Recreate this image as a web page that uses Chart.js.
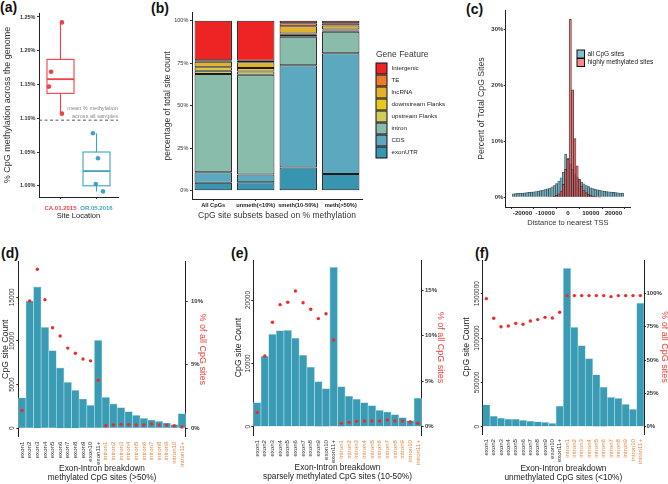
<!DOCTYPE html>
<html>
<head>
<meta charset="utf-8">
<script src="https://cdn.jsdelivr.net/npm/chart.js@4.4.1/dist/chart.umd.min.js"></script>
<style>
html, body { margin: 0; padding: 0; background: #fff; width: 668px; height: 484px; overflow: hidden; }
canvas { position: absolute; }
.tag { position: absolute; font: bold 14px 'Liberation Sans', Arial, sans-serif; color: #111; }
</style>
</head>
<body>
<div class="tag" style="left:0px;top:-1px">(a)</div>
<div class="tag" style="left:151px;top:0px">(b)</div>
<div class="tag" style="left:466px;top:1px">(c)</div>
<div class="tag" style="left:1px;top:245px">(d)</div>
<div class="tag" style="left:231px;top:245px">(e)</div>
<div class="tag" style="left:475px;top:245px">(f)</div>

<canvas id="chartA" width="125" height="228" style="left:0;top:0"></canvas>
<canvas id="chartB" width="345" height="228" style="left:125px;top:0"></canvas>
<canvas id="chartC" width="208" height="235" style="left:460px;top:0"></canvas>
<canvas id="chartD" width="215" height="244" style="left:0;top:240px"></canvas>
<canvas id="chartE" width="226" height="244" style="left:220px;top:240px"></canvas>
<canvas id="chartF" width="226" height="244" style="left:446px;top:240px"></canvas>

<script>
const FONT = "'Liberation Sans', Arial, sans-serif";

// (a) genome-wide % CpG methylation per sample
const sites = ['CA.01.2015', 'OR.05.2016'];
const caMeth = [1.242, 1.169, 1.147, 1.107];
const orMeth = [1.078, 1.041, 1.003, 0.992];
const methTicks = [1.00, 1.05, 1.10, 1.15, 1.20, 1.25];

// (b) gene feature share per CpG subset (%)
const subsets = ['All CpGs', 'unmeth(<10%)', 'smeth(10-50%)', 'meth(>50%)'];
const features = ['exonUTR', 'CDS', 'intron', 'upstream Flanks', 'downstream Flanks', 'lncRNA', 'TE', 'Intergenic'];
const exonUTR = [4.7, 5.0, 13.7, 9.8];
const cds = [6.1, 4.6, 60.1, 71.0];
const intron = [57.8, 58.6, 16.8, 12.7];
const upstreamFlanks = [1.9, 1.9, 1.2, 0.8];
const downstreamFlanks = [2.1, 2.1, 0.7, 0.5];
const lncRNA = [3.2, 3.3, 4.3, 2.4];
const te = [0.9, 0.9, 1.7, 1.3];
const intergenic = [23.3, 23.6, 1.5, 1.5];
const pctTicks = [0, 25, 50, 75, 100];

// (c) distance to nearest TSS, 1 kb bins (bin centres)
const tssBins = [-24000, -23000, -22000, -21000, -20000, -19000, -18000, -17000, -16000, -15000,
  -14000, -13000, -12000, -11000, -10000, -9000, -8000, -7000, -6000, -5000, -4000, -3000, -2000, -1000,
  0, 1000, 2000, 3000, 4000, 5000, 6000, 7000, 8000, 9000, 10000, 11000, 12000, 13000, 14000, 15000,
  16000, 17000, 18000, 19000, 20000, 21000, 22000, 23000, 24000];
const allSites = [0.6, 0.65, 0.7, 0.72, 0.75, 0.8, 0.83, 0.87, 0.92, 0.97,
  1.03, 1.1, 1.18, 1.27, 1.37, 1.5, 1.65, 1.85, 2.1, 2.45, 2.9, 3.5, 4.5, 7.7,
  7.0, 6.0, 5.0, 4.2, 3.6, 3.1, 2.7, 2.4, 2.1, 1.9, 1.7, 1.55, 1.42, 1.32, 1.23, 1.15,
  1.08, 1.02, 0.97, 0.92, 0.88, 0.84, 0.8, 0.77, 0.74];
const highSites = [0, 0, 0, 0, 0, 0, 0, 0, 0, 0,
  0, 0, 0, 0, 0, 0, 0.05, 0.1, 0.2, 0.35, 0.6, 1.1, 2.3, 5.0,
  6.8, 31.8, 19.2, 10.5, 5.6, 3.2, 2.0, 1.3, 0.85, 0.55, 0.35, 0.22, 0.12, 0.06, 0.03, 0,
  0, 0, 0, 0, 0, 0, 0, 0, 0];
const tssTicks = [-20000, -10000, 0, 10000, 20000];
const tssPctTicks = [0, 10, 20, 30];

// (d)-(f) exon / intron breakdown
const exonIntron = ['exon1', 'exon2', 'exon3', 'exon4', 'exon5', 'exon6', 'exon7', 'exon8', 'exon9', 'exon10', 'exon11+',
  'intron1', 'intron2', 'intron3', 'intron4', 'intron5', 'intron6', 'intron7', 'intron8', 'intron9', 'intron10', 'intron11+'];
const methCount = [3500, 14600, 16200, 11560, 8890, 6910, 5270, 4350, 3360, 2630, 10080,
  3550, 2790, 2370, 1910, 1490, 1150, 950, 800, 610, 420, 1680];
const methPct = [1.41, 10.0, 12.5, 10.1, 7.9, 7.25, 6.3, 5.9, 5.45, 5.3, 3.77,
  0.2, 0.26, 0.31, 0.29, 0.26, 0.26, 0.34, 0.26, 0.26, 0.2, 0.1];
const smethCount = [3790, 11160, 14580, 15160, 15210, 14000, 11320, 9420, 7110, 6000, 25160,
  6320, 4840, 4370, 3790, 3320, 2580, 2320, 1900, 1420, 950, 4530];
const smethPct = [1.57, 7.77, 11.47, 13.4, 13.66, 14.9, 13.6, 12.9, 11.87, 12.4, 9.52,
  0.37, 0.48, 0.59, 0.62, 0.62, 0.62, 0.73, 0.62, 0.62, 0.51, 0.37];
const unmethCount = [248000, 120000, 98000, 86000, 86000, 71000, 64000, 56000, 49000, 38000, 233000,
  1786000, 1120000, 914000, 767000, 586000, 447000, 331000, 320000, 252000, 195000, 1395000];
const unmethPct = [96, 81.3, 75, 75.5, 77.5, 76.8, 79.3, 80.3, 82, 81.5, 85.8,
  98.3, 98.3, 98.3, 98.3, 98.3, 98.3, 97.5, 98.3, 98.3, 98.3, 98.3];

// styling
const siteColors = ['#ef4146', '#3ea3c2'];
const jitterA = [[0.04, -0.26, -0.32, 0.04], [-0.1, 0.04, -0.02, 0.18]];
const featureColors = ['#3795b0', '#5ba8bf', '#8abcab', '#d0cd5c', '#e9c720', '#e2b22a', '#ee7a2b', '#ee2424'];

Chart.defaults.font.family = FONT;
Chart.defaults.animation = false;
Chart.defaults.responsive = false;
Chart.defaults.color = '#333';
Chart.defaults.plugins.legend.display = false;
Chart.defaults.plugins.tooltip.enabled = false;

function f(size, weight, lineHeight) {
  return {family: FONT, size: size, weight: weight || 'normal', lineHeight: lineHeight || 1.2};
}

// fixes the thickness of an axis box so the plot area lands where we want it
function fit(size) {
  return function (s) {
    if (s.isHorizontal()) s.height = size; else s.width = size;
    s.paddingLeft = s.paddingRight = s.paddingTop = s.paddingBottom = 0;
  };
}

function setTicks(values) {
  return function (s) { s.ticks = values.map(v => ({value: v})); };
}

const plain = v => String(v);

function quantile(arr, p) {
  const s = [...arr].sort((a, b) => a - b);
  const h = (s.length - 1) * p, lo = Math.floor(h);
  const hi = Math.min(lo + 1, s.length - 1);
  return s[lo] + (h - lo) * (s[hi] - s[lo]);
}

const axisLine = {display: true, color: '#222', width: 1};
const tickMarks = {drawOnChartArea: false, drawTicks: true, tickLength: 2, color: '#333'};

// box and whisker + mean line for panel (a)
const boxPlot = {
  id: 'boxPlot',
  beforeDatasetsDraw(chart) {
    const {ctx, chartArea, scales: {x, y}} = chart;
    const all = caMeth.concat(orMeth);
    const mean = all.reduce((a, b) => a + b, 0) / all.length;
    const ym = y.getPixelForValue(mean);
    ctx.save();
    ctx.strokeStyle = '#444';
    ctx.lineWidth = 0.9;
    ctx.setLineDash([3, 2.5]);
    ctx.beginPath();
    ctx.moveTo(chartArea.left, ym);
    ctx.lineTo(chartArea.right, ym);
    ctx.stroke();
    ctx.setLineDash([]);
    ctx.fillStyle = '#8a8a8a';
    ctx.font = '5.6px ' + FONT;
    ctx.textAlign = 'right';
    ctx.textBaseline = 'middle';
    ctx.fillText('mean % methylation', chartArea.right, ym - 11.7);
    ctx.fillText('across all samples', chartArea.right, ym - 3.6);

    [caMeth, orMeth].forEach((vals, i) => {
      const q1 = quantile(vals, 0.25), med = quantile(vals, 0.5), q3 = quantile(vals, 0.75);
      const lo = Math.min(...vals), hi = Math.max(...vals);
      const xc = x.getPixelForValue(i + 1);
      const hw = x.getPixelForValue(i + 1.375) - xc;
      const py = v => y.getPixelForValue(v);
      ctx.strokeStyle = siteColors[i];
      ctx.lineWidth = 1.1;
      ctx.beginPath();
      ctx.moveTo(xc, py(hi)); ctx.lineTo(xc, py(q3));
      ctx.moveTo(xc, py(q1)); ctx.lineTo(xc, py(lo));
      ctx.stroke();
      ctx.strokeRect(xc - hw, py(q3), 2 * hw, py(q1) - py(q3));
      ctx.lineWidth = 1.8;
      ctx.beginPath();
      ctx.moveTo(xc - hw, py(med)); ctx.lineTo(xc + hw, py(med));
      ctx.stroke();
    });
    ctx.restore();
  }
};

// key boxes drawn at fixed spots (ggplot-like legends)
const keyLegend = {
  id: 'keyLegend',
  afterDraw(chart, args, o) {
    const ctx = chart.ctx;
    const ds = chart.data.datasets;
    ctx.save();
    if (o.title) {
      ctx.fillStyle = '#333';
      ctx.font = o.titleSize + 'px ' + FONT;
      ctx.textBaseline = 'middle';
      ctx.fillText(o.title, o.x, o.titleY);
    }
    o.order.forEach((idx, k) => {
      const top = o.y + k * o.step;
      ctx.fillStyle = o.keyColors ? o.keyColors[idx] : ds[idx].backgroundColor;
      ctx.fillRect(o.x, top, o.w, o.h);
      ctx.strokeStyle = '#111';
      ctx.lineWidth = 1;
      ctx.strokeRect(o.x, top, o.w, o.h);
      ctx.fillStyle = '#222';
      ctx.font = o.size + 'px ' + FONT;
      ctx.textBaseline = 'middle';
      ctx.fillText(ds[idx].label, o.x + o.w + o.gap, top + o.h / 2);
    });
    ctx.restore();
  }
};

// ---- (a)
new Chart(document.getElementById('chartA'), {
  type: 'scatter',
  data: {
    datasets: [caMeth, orMeth].map((vals, i) => ({
      label: sites[i],
      data: vals.map((v, k) => ({x: i + 1 + jitterA[i][k], y: v})),
      backgroundColor: siteColors[i],
      borderWidth: 0,
      pointRadius: 2.3
    }))
  },
  options: {
    layout: {padding: {top: 13, right: 7}},
    scales: {
      x: {
        type: 'linear', min: 0.403, max: 2.597,
        afterBuildTicks: setTicks([1, 2]), afterFit: fit(31),
        grid: tickMarks, border: axisLine,
        ticks: {padding: 6, font: f(6, 'bold'), color: c => siteColors[c.index], callback: (v, i) => sites[i]},
        title: {display: true, text: 'Site Location', font: f(7.5), color: '#222', padding: {top: 0, bottom: 7.3}}
      },
      y: {
        min: 0.9837, max: 1.2559,
        afterBuildTicks: setTicks(methTicks), afterFit: fit(39),
        grid: tickMarks, border: axisLine,
        ticks: {padding: 1.5, font: f(5.5, 'bold'), callback: v => v.toFixed(2) + '%'},
        title: {display: true, text: '% CpG methylation across the genome', font: f(9), color: '#333', padding: {top: 2.6, bottom: 0}}
      }
    }
  },
  plugins: [boxPlot]
});

// ---- (b)
const featureData = [exonUTR, cds, intron, upstreamFlanks, downstreamFlanks, lncRNA, te, intergenic];
new Chart(document.getElementById('chartB'), {
  type: 'bar',
  data: {
    labels: subsets,
    datasets: featureData.map((vals, i) => ({
      label: features[i],
      data: vals,
      backgroundColor: featureColors[i],
      borderColor: '#1a1a1a',
      borderWidth: 1,
      borderSkipped: false,
      barPercentage: 0.88,
      categoryPercentage: 1
    }))
  },
  options: {
    layout: {padding: {top: 12.7, right: 108}},
    scales: {
      x: {
        stacked: true, afterFit: fit(29),
        grid: Object.assign({offset: false}, tickMarks), border: axisLine,
        ticks: {padding: 1, font: f(5.7, 'bold'), color: '#222', minRotation: 0, maxRotation: 0, autoSkip: false},
        title: {display: true, text: 'CpG site subsets based on % methylation', font: f(8.5), color: '#333', padding: {top: 0, bottom: 7.4}}
      },
      y: {
        stacked: true, min: -4.88, max: 104.7,
        afterBuildTicks: setTicks(pctTicks), afterFit: fit(67),
        grid: tickMarks, border: axisLine,
        ticks: {padding: 1.7, font: f(5.5), callback: v => v + '%'},
        title: {display: true, text: 'percentage of total site count', font: f(8.5), color: '#333', padding: {top: 37.9, bottom: 0}}
      }
    },
    plugins: {
      keyLegend: {
        title: 'Gene Feature', titleSize: 8.5, titleY: 55,
        x: 251, y: 63, step: 12, w: 11, h: 11, gap: 4.5, size: 6.2,
        order: [7, 6, 5, 4, 3, 2, 1, 0]
      }
    }
  },
  plugins: [keyLegend]
});

// ---- (c)
new Chart(document.getElementById('chartC'), {
  type: 'bar',
  data: {
    datasets: [
      {
        label: 'all CpG sites',
        data: tssBins.map((b, i) => ({x: b, y: allSites[i]})),
        backgroundColor: 'rgba(103,176,197,0.75)',
        borderColor: 'rgba(20,20,20,0.8)', borderWidth: 0.5,
        order: 1
      },
      {
        label: 'highly methylated sites',
        data: tssBins.map((b, i) => ({x: b, y: highSites[i]})),
        backgroundColor: 'rgba(238,88,88,0.65)',
        borderColor: 'rgba(20,20,20,0.8)', borderWidth: 0.5,
        order: 0
      }
    ]
  },
  options: {
    grouped: false,
    barPercentage: 1,
    categoryPercentage: 1,
    layout: {padding: {top: 10, right: 38}},
    scales: {
      x: {
        type: 'linear', offset: false, min: -27385, max: 27253,
        afterBuildTicks: setTicks(tssTicks), afterFit: fit(28),
        grid: tickMarks, border: axisLine,
        ticks: {padding: 0.9, font: f(6.2, 'bold'), color: '#222', callback: plain},
        title: {display: true, text: 'Distance to nearest TSS', font: f(7.5), color: '#333', padding: {top: 0, bottom: 7.5}}
      },
      y: {
        min: -1.73, max: 33.45,
        afterBuildTicks: setTicks(tssPctTicks), afterFit: fit(45.7),
        grid: tickMarks, border: axisLine,
        ticks: {padding: 0.4, font: f(6, 'bold'), callback: v => v + '%'},
        title: {display: true, text: 'Percent of Total CpG Sites', font: f(8.7), color: '#333', padding: {top: 16.8, bottom: 0}}
      }
    },
    plugins: {
      keyLegend: {
        x: 117, y: 50, step: 8.5, w: 7.5, h: 8, gap: 3, size: 6.5,
        order: [0, 1], keyColors: ['#80bfd0', '#f48a8c']
      }
    }
  },
  plugins: [keyLegend]
});

// ---- (d)-(f)
function breakdownChart(id, counts, pct, subtitle, L) {
  new Chart(document.getElementById(id), {
    type: 'bar',
    data: {
      labels: exonIntron,
      datasets: [
        {
          type: 'line', label: '% of all CpG sites', data: pct, yAxisID: 'y2',
          showLine: false, pointRadius: 1.7, pointBackgroundColor: '#ee2a2a', pointBorderWidth: 0, order: 0
        },
        {
          label: 'CpG site Count', data: counts, yAxisID: 'y',
          backgroundColor: '#3a9bb4', borderColor: '#a9d6e0', borderWidth: 0.7,
          barPercentage: 1, categoryPercentage: 1, order: 1
        }
      ]
    },
    options: {
      layout: {padding: {top: L.top}},
      scales: {
        x: {
          afterFit: fit(L.xh),
          grid: {display: false}, border: {display: false},
          ticks: {
            autoSkip: false, minRotation: 90, maxRotation: 90, padding: L.xpad, font: f(6.1),
            color: c => c.index < 11 ? '#333' : '#e8843c'
          },
          title: {
            display: true, text: ['Exon-Intron breakdown', subtitle], font: f(8.3, 'normal', 1.17),
            color: '#222', padding: {top: 0, bottom: L.tpad}
          }
        },
        y: {
          position: 'left', min: L.ymin, max: L.ymax,
          afterBuildTicks: setTicks(L.yticks), afterFit: fit(L.yw),
          grid: tickMarks, border: axisLine,
          ticks: {minRotation: 90, maxRotation: 90, crossAlign: 'center', padding: L.ypad, font: f(6.5), callback: plain},
          title: {display: true, text: 'CpG site Count', font: f(8.7), color: '#222', padding: {top: L.ytitle, bottom: 0}}
        },
        y2: {
          position: 'right', min: L.pmin, max: L.pmax,
          afterBuildTicks: setTicks(L.pticks), afterFit: fit(L.pw),
          grid: tickMarks, border: axisLine,
          ticks: {padding: L.ppad, font: f(6, 'bold'), callback: v => v + '%'},
          title: {display: true, text: '% of all CpG sites', font: f(9), color: '#ea4038', padding: {top: L.ptitle, bottom: 0}}
        }
      }
    }
  });
}

breakdownChart('chartD', methCount, methPct, 'methylated CpG sites (>50%)', {
  top: 21.7, xh: 47.3, xpad: -3, tpad: 1.2,
  ymin: -962, ymax: 19077, yticks: [0, 5000, 10000, 15000], yw: 18.3, ypad: -5, ytitle: 0,
  pmin: -0.66, pmax: 13.09, pticks: [0, 5, 10], pw: 29.3, ppad: 3.3, ptitle: 6.9
});
breakdownChart('chartE', smethCount, smethPct, 'sparsely methylated CpG sites (10-50%)', {
  top: 20, xh: 49, xpad: -3, tpad: 2.2,
  ymin: -1311, ymax: 26322, yticks: [0, 10000, 20000], yw: 33.3, ypad: -5.7, ytitle: 13.1,
  pmin: -0.91, pmax: 18.3, pticks: [0, 5, 10, 15], pw: 24.3, ppad: 1.3, ptitle: 0.6
});
breakdownChart('chartF', unmethCount, unmethPct, 'unmethylated CpG sites (<10%)', {
  top: 20, xh: 50, xpad: -3, tpad: 1.2,
  ymin: -82330, ymax: 1880000, yticks: [0, 500000, 1000000, 1500000], yw: 36.7, ypad: -9.6, ytitle: 15.5,
  pmin: -5.48, pmax: 125, pticks: [0, 25, 50, 75, 100], pw: 28, ppad: 0.5, ptitle: 2.6
});
</script>
</body>
</html>
